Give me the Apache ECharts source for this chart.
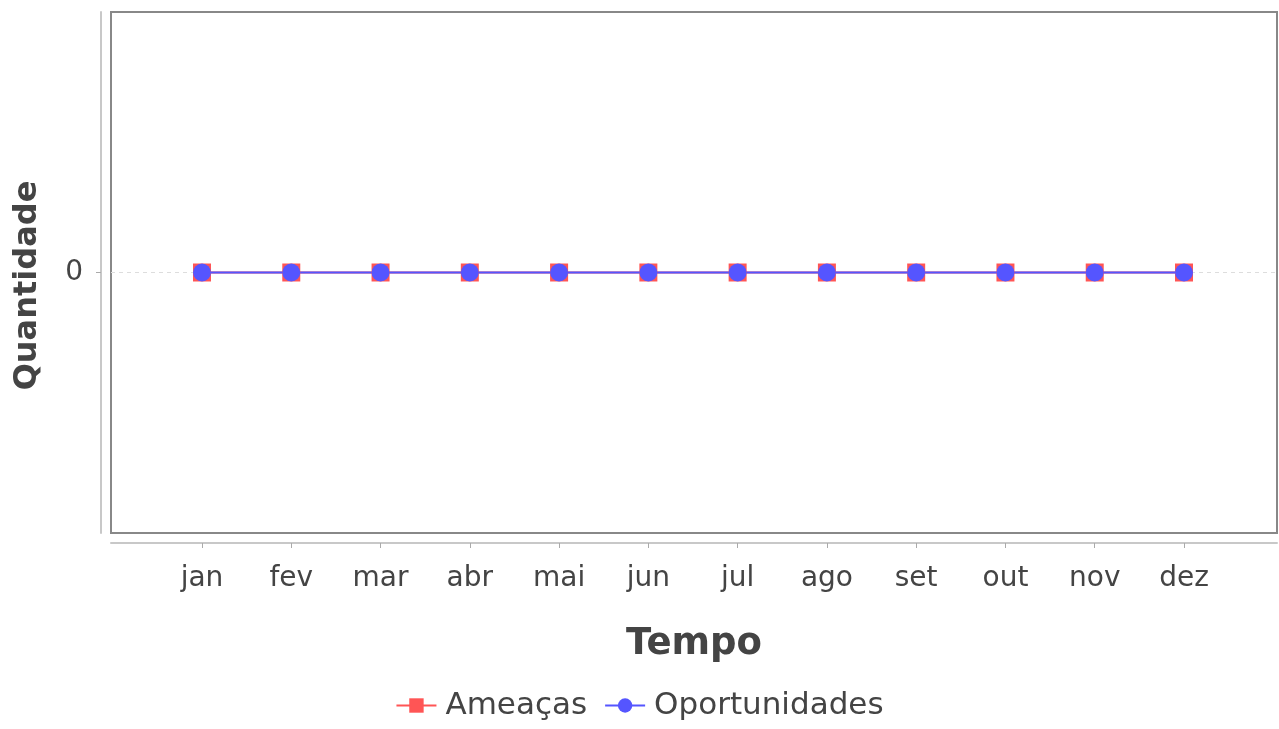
<!DOCTYPE html>
<html>
<head>
<meta charset="utf-8">
<script src="https://cdn.jsdelivr.net/npm/echarts@6/dist/echarts.min.js"></script>
<style>
html,body{margin:0;padding:0;background:#fff;}
#chart{width:1279px;height:729px;}
</style>
</head>
<body>
<div id="chart"></div>
<script>
const categories = ['jan','fev','mar','abr','mai','jun','jul','ago','set','out','nov','dez'];
const ameacas = [0,0,0,0,0,0,0,0,0,0,0,0];
const oportunidades = [0,0,0,0,0,0,0,0,0,0,0,0];
const yTicks = [0];
const FONT = 'DejaVu Sans';

const chart = echarts.init(document.getElementById('chart'));
chart.setOption({
  animation: false,
  backgroundColor: '#ffffff',
  textStyle: { fontFamily: FONT },
  grid: [
    { left: 111, right: 2, top: 12, bottom: 196, show: true, borderColor: '#888888', borderWidth: 2, backgroundColor: 'transparent' },
    { left: 202, right: 95, top: 12, bottom: 196, show: false }
  ],
  legend: {
    bottom: 3,
    left: 'center',
    itemGap: 17,
    itemWidth: 40,
    itemHeight: 18,
    textStyle: { fontFamily: FONT, fontSize: 31, color: '#444444', padding: [0, 0, 0, 4] },
    data: ['Ameaças', 'Oportunidades']
  },
  xAxis: [
    {
      gridIndex: 0, type: 'value', min: 0, max: 1, offset: 10,
      axisLine: { show: true, onZero: false, lineStyle: { color: '#c8c8c8', width: 2 } },
      axisTick: { show: false }, axisLabel: { show: false }, splitLine: { show: false },
      name: 'Tempo', nameLocation: 'middle', nameGap: 83,
      nameTextStyle: { fontFamily: FONT, fontSize: 37, fontWeight: 'bold', color: '#444444' }
    },
    {
      gridIndex: 1, type: 'category', data: categories, boundaryGap: false, offset: 10,
      axisLine: { show: false, onZero: false },
      axisTick: { show: true, length: 5, lineStyle: { color: '#aaaaaa', width: 1 } },
      axisLabel: { fontFamily: FONT, fontSize: 28, color: '#444444', margin: 22 },
      splitLine: { show: false }
    }
  ],
  yAxis: [
    {
      gridIndex: 0, type: 'value', min: -1, max: 1, interval: 1, offset: 10,
      axisLine: { show: true, onZero: false, lineStyle: { color: '#c8c8c8', width: 2 } },
      axisTick: { show: true, length: 5, customValues: yTicks, lineStyle: { color: '#aaaaaa' } },
      axisLabel: { customValues: yTicks, fontFamily: FONT, fontSize: 28, color: '#444444', margin: 18 },
      splitLine: { show: true, lineStyle: { color: '#dddddd', type: [4, 4], width: 1 } },
      name: 'Quantidade', nameLocation: 'middle', nameGap: 57, nameRotate: 90,
      nameTextStyle: { fontFamily: FONT, fontSize: 32, fontWeight: 'bold', color: '#444444', padding: [0, 26, 0, 0] }
    },
    {
      gridIndex: 1, type: 'value', min: -1, max: 1, interval: 1, show: false
    }
  ],
  series: [
    {
      name: 'Ameaças', type: 'line', xAxisIndex: 1, yAxisIndex: 1, data: ameacas,
      symbol: 'rect', symbolSize: 18, showAllSymbol: true,
      itemStyle: { color: '#ff5555' },
      lineStyle: { color: '#ff5555', width: 2 }
    },
    {
      name: 'Oportunidades', type: 'line', xAxisIndex: 1, yAxisIndex: 1, data: oportunidades,
      symbol: 'circle', symbolSize: 18, showAllSymbol: true,
      itemStyle: { color: '#5555ff' },
      lineStyle: { color: '#5555ff', width: 2 }
    }
  ]
});
</script>
</body>
</html>
